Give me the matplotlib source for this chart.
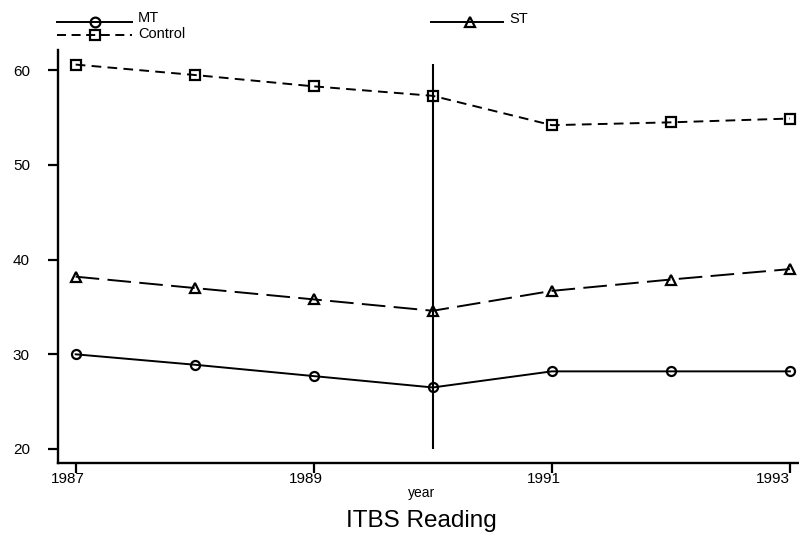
import matplotlib
matplotlib.use('Agg')
import matplotlib.pyplot as plt
from matplotlib.lines import Line2D
from matplotlib.transforms import ScaledTranslation

plt.rcParams['font.family'] = ['Liberation Sans', 'DejaVu Sans']
plt.rcParams['lines.scale_dashes'] = False

# data
years = [1987, 1988, 1989, 1990, 1991, 1992, 1993]
mt = [30.0, 28.9, 27.7, 26.5, 28.2, 28.2, 28.2]
st = [38.2, 37.0, 35.8, 34.6, 36.7, 37.9, 39.0]
control = [60.6, 59.5, 58.3, 57.3, 54.2, 54.5, 54.9]
xticks = [1987, 1989, 1991, 1993]
yticks = [20, 30, 40, 50, 60]
vline_year = 1990
vline_range = (20, 60.7)

W, H = 799, 537
fig = plt.figure(figsize=(W / 100, H / 100), dpi=100)
ax = fig.add_axes([57.7 / W, (H - 462.7) / H, (W - 57.7) / W, (462.7 - 50) / H])

lw = 1.4
ax.plot(years, mt, color='black', lw=lw, marker='o', ms=6.5, mfc='none', mew=1.6,
        clip_on=False)
ax.plot(years, st, color='black', lw=lw, dashes=(17, 6), marker='^', ms=7, mfc='none',
        mew=1.6, clip_on=False)
ax.plot(years, control, color='black', lw=lw, dashes=(7, 4.5), marker='s', ms=7,
        mfc='none', mew=1.6, clip_on=False)
ax.vlines(vline_year, vline_range[0], vline_range[1], color='black', lw=1.5)

ax.set_xlim(1986.849, 1993.076)
ax.set_ylim(18.553, 62.14)
ax.set_xticks(xticks)
ax.set_yticks(yticks)
for s in ['top', 'right']:
    ax.spines[s].set_visible(False)
for s in ['left', 'bottom']:
    ax.spines[s].set_linewidth(1.7)
ax.tick_params(axis='both', direction='out', length=7, width=1.6, labelsize=11)
ax.tick_params(axis='y', pad=13)
ax.tick_params(axis='x', pad=0)

offset = ScaledTranslation(-8 / 100, 0, fig.dpi_scale_trans)
labels = ax.get_xticklabels()
for i, lab in enumerate(labels):
    if i == len(labels) - 1:
        lab.set_ha('right')
    else:
        lab.set_transform(lab.get_transform() + offset)

fig.text(422 / W, 1 - 492.7 / H, 'year', ha='center', va='center', fontsize=10)
fig.text(421 / W, 1 - 521 / H, 'ITBS Reading', ha='center', va='center', fontsize=17.5)

# legend drawn by hand, as in the reference
def px(x, y):
    return x / W, 1 - y / H

def legend_entry(x0, x1, xm, y, marker, label, ty, dashes=None):
    (a, b), (c, _) = px(x0, y), px(x1, y)
    kw = dict(color='black', lw=lw, transform=fig.transFigure)
    if dashes:
        kw['dashes'] = dashes
    fig.add_artist(Line2D([a, c], [b, b], **kw))
    mx, my = px(xm, y)
    fig.add_artist(Line2D([mx], [my], marker=marker, ms=7, mfc='none', mew=1.6,
                          color='black', transform=fig.transFigure))
    tx, tyy = px(x1 + 6, ty)
    fig.text(tx, tyy, label, ha='left', va='center', fontsize=10.5)

legend_entry(57, 132, 95, 22, 'o', 'MT', 18.4)
legend_entry(57, 132, 95, 34.6, 's', 'Control', 34, dashes=(6.5, 4))
legend_entry(431, 503, 470, 22, '^', 'ST', 18.6)

fig.savefig('out.png', dpi=100)
